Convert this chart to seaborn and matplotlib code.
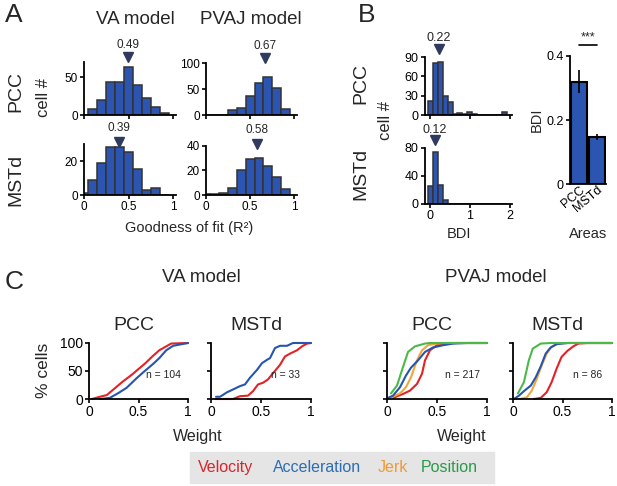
import numpy as np
import pandas as pd
import matplotlib
matplotlib.use('Agg')
import matplotlib.pyplot as plt
import seaborn as sns

W, H = 617, 486

# ---- A: goodness of fit histograms (bin centres, width 0.1)
fit_bins = [0.0, 0.1, 0.2, 0.3, 0.4, 0.5, 0.6, 0.7, 0.8, 0.9]
va_pcc_counts = [0, 8, 20, 43, 44, 63, 40, 22, 10, 2]
pvaj_pcc_counts = [0, 0, 0, 9, 13, 37, 62, 74, 52, 11]
va_mstd_counts = [1, 9, 19, 28, 28, 25, 15, 3, 4, 0]
pvaj_mstd_counts = [1, 1, 2, 6, 20, 29, 30, 24, 15, 5]
fit_medians = [0.49, 0.67, 0.39, 0.58]

# ---- B: BDI histograms (bin centres, width 0.125) and mean BDI
bdi_bins = [0, 0.125, 0.25, 0.375, 0.5, 0.625, 0.75, 0.875, 1.0, 1.125,
            1.25, 1.375, 1.5, 1.625, 1.75, 1.875]
pcc_bdi_counts = [22, 80, 82, 29, 20, 2, 3, 2, 5, 1, 0, 0, 0, 0, 0, 5]
mstd_bdi_counts = [26, 74, 27, 5, 0, 0, 0, 0, 0, 0, 0, 0, 0, 0, 0, 0]
bdi_medians = [0.22, 0.12]
areas = ['PCC', 'MSTd']
bdi_means = [0.32, 0.147]
bdi_sem = [0.036, 0.009]

# ---- C: cumulative weight distributions (% cells)
va_pcc_vel_x = [0.03, 0.11, 0.18, 0.26, 0.34, 0.43, 0.49, 0.57, 0.64, 0.71, 0.78, 0.83, 1.0]
va_pcc_vel_y = [0, 4, 7, 19, 31, 43, 52, 64, 76, 87, 94, 99, 100]
va_pcc_acc_x = [0.11, 0.21, 0.30, 0.38, 0.48, 0.55, 0.65, 0.71, 0.78, 0.85, 0.91, 1.0]
va_pcc_acc_y = [0, 2, 11, 20, 37, 48, 63, 73, 87, 95, 97, 100]

va_mstd_vel_x = [0.05, 0.22, 0.29, 0.37, 0.42, 0.47, 0.52, 0.57, 0.62, 0.69, 0.74, 0.79, 0.86, 0.91, 0.96, 1.0]
va_mstd_vel_y = [0, 0, 5, 6, 14, 26, 29, 35, 46, 61, 76, 81, 87, 94, 99, 100]
va_mstd_acc_x = [0.05, 0.09, 0.16, 0.22, 0.29, 0.34, 0.39, 0.46, 0.51, 0.56, 0.59, 0.64, 0.69, 0.76, 0.82, 1.0]
va_mstd_acc_y = [4, 4, 12, 17, 23, 26, 38, 52, 64, 70, 73, 91, 95, 95, 100, 100]

pvaj_pcc_pos_x = [0.04, 0.10, 0.16, 0.21, 0.28, 0.38, 0.43, 1.0]
pvaj_pcc_pos_y = [10, 24, 57, 84, 94, 99, 100, 100]
pvaj_pcc_acc_x = [0.01, 0.06, 0.13, 0.19, 0.24, 0.31, 0.38, 0.46, 0.56, 0.66, 0.80, 1.0]
pvaj_pcc_acc_y = [2, 6, 21, 42, 56, 69, 84, 92, 96, 99, 100, 100]
pvaj_pcc_jerk_x = [0.03, 0.13, 0.19, 0.24, 0.30, 0.35, 0.41, 0.50, 0.60, 1.0]
pvaj_pcc_jerk_y = [2, 10, 21, 39, 69, 87, 96, 99, 100, 100]
pvaj_pcc_vel_x = [0.06, 0.16, 0.23, 0.30, 0.35, 0.38, 0.43, 0.50, 0.60, 0.70, 1.0]
pvaj_pcc_vel_y = [2, 9, 15, 27, 45, 69, 87, 96, 99, 100, 100]

pvaj_mstd_pos_x = [0.05, 0.11, 0.16, 0.20, 0.28, 0.38, 1.0]
pvaj_mstd_pos_y = [10, 30, 69, 90, 99, 100, 100]
pvaj_mstd_acc_x = [0.01, 0.06, 0.11, 0.18, 0.23, 0.28, 0.33, 0.38, 0.44, 0.55, 1.0]
pvaj_mstd_acc_y = [0, 6, 14, 24, 39, 58, 81, 92, 98, 100, 100]
pvaj_mstd_jerk_x = [0.07, 0.14, 0.19, 0.24, 0.29, 0.34, 0.39, 0.46, 0.55, 1.0]
pvaj_mstd_jerk_y = [0, 3, 15, 36, 60, 81, 93, 99, 100, 100]
pvaj_mstd_vel_x = [0.21, 0.28, 0.34, 0.39, 0.44, 0.49, 0.55, 0.61, 0.66, 0.75, 1.0]
pvaj_mstd_vel_y = [0, 2, 12, 30, 54, 75, 86, 94, 99, 100, 100]

n_cells = ['n = 104', 'n = 33', 'n = 217', 'n = 86']
legend_names = ['Velocity', 'Acceleration', 'Jerk', 'Position']

sns.set_theme(style='ticks')
plt.rcParams['font.family'] = ['Liberation Sans', 'DejaVu Sans']
plt.rcParams['axes.linewidth'] = 1.3
plt.rcParams['xtick.major.width'] = 1.2
plt.rcParams['ytick.major.width'] = 1.2
plt.rcParams['xtick.major.size'] = 3
plt.rcParams['ytick.major.size'] = 3
plt.rcParams['xtick.major.pad'] = 1.5
plt.rcParams['ytick.major.pad'] = 1.5
plt.rcParams['xtick.color'] = 'black'
plt.rcParams['ytick.color'] = 'black'
plt.rcParams['axes.edgecolor'] = 'black'

BAR = '#2b55b0'
EDGE = '#333333'
TRI = '#2f3b5e'
RED, BLUE, ORANGE, GREEN = '#e32227', '#2456b0', '#f4a53a', '#4cb848'

fig = plt.figure(figsize=(W / 100, H / 100), dpi=100)


def px_axes(x0, y0, x1, y1):
    return fig.add_axes([x0 / W, 1 - y1 / H, (x1 - x0) / W, (y1 - y0) / H])


def ftext(x, y, s, **kw):
    fig.text(x / W, 1 - y / H, s, **kw)


def hist_panel(ax, centres, counts, width, ylim, yticks, xlim, xticks, xlabels, fs):
    edges = list(np.array(centres) - width / 2) + [centres[-1] + width / 2]
    sns.histplot(x=centres, weights=counts, bins=edges, ax=ax, color=BAR,
                 edgecolor=EDGE, linewidth=1.1, alpha=1)
    ax.set_xlim(*xlim)
    ax.set_ylim(*ylim)
    ax.set_yticks(yticks)
    ax.set_xticks(xticks)
    ax.set_xticklabels(xlabels)
    ax.set_xlabel('')
    ax.set_ylabel('')
    ax.tick_params(labelsize=fs)
    sns.despine(ax=ax)


def median_mark(ax, m, tri_y, lab_y, fs):
    tr = ax.get_xaxis_transform()
    ax.plot([m], [tri_y], marker='v', color=TRI, markersize=7.5, transform=tr, clip_on=False)
    ax.text(m, lab_y, f'{m:.2f}', transform=tr, ha='center', va='center', fontsize=fs)


# ---------------- Panel A
axA = [px_axes(84, 62, 176, 115), px_axes(206, 63, 297, 115),
       px_axes(84, 144, 176, 195), px_axes(206, 146, 297, 195)]
a_counts = [va_pcc_counts, pvaj_pcc_counts, va_mstd_counts, pvaj_mstd_counts]
a_ylims = [(0, 70), (0, 100), (0, 30), (0, 40)]
a_yticks = [[0, 50], [0, 50, 100], [0, 20], [0, 20, 40]]
for i, ax in enumerate(axA):
    labs = ['0', '0.5', '1'] if i >= 2 else ['', '', '']
    hist_panel(ax, fit_bins, a_counts[i], 0.1, a_ylims[i], a_yticks[i],
               (0, 1.03), [0, 0.5, 1], labs, 8.5)
    if i < 2:
        median_mark(ax, fit_medians[i], 1.09, 1.33, 8.5)
    else:
        median_mark(ax, fit_medians[i], 1.04, 1.32, 8.5)

ftext(5, 3, 'A', fontsize=19, va='top', ha='left')
ftext(135, 19, 'VA model', fontsize=13.5, ha='center', va='center')
ftext(251, 19, 'PVAJ model', fontsize=13.5, ha='center', va='center')
ftext(16, 92, 'PCC', fontsize=14, rotation=90, ha='center', va='center')
ftext(16, 180, 'MSTd', fontsize=14, rotation=90, ha='center', va='center')
ftext(44, 97, 'cell #', fontsize=12, rotation=90, ha='center', va='center')
ftext(189, 228, 'Goodness of fit (R²)', fontsize=10.5, ha='center', va='center')

# ---------------- Panel B
axB1 = px_axes(425, 57, 512, 115)
axB2 = px_axes(425, 148, 512, 204)
hist_panel(axB1, bdi_bins, pcc_bdi_counts, 0.125, (0, 90), [0, 30, 60, 90],
           (-0.13, 2.06), [0, 1, 2], ['', '', ''], 9)
hist_panel(axB2, bdi_bins, mstd_bdi_counts, 0.125, (0, 80), [0, 40, 80],
           (-0.13, 2.06), [0, 1, 2], ['0', '1', '2'], 9)
median_mark(axB1, bdi_medians[0], 1.14, 1.33, 9)
median_mark(axB2, bdi_medians[1], 1.14, 1.33, 9)

ftext(358, 3, 'B', fontsize=19, va='top', ha='left')
ftext(361, 84, 'PCC', fontsize=14, rotation=90, ha='center', va='center')
ftext(361, 174, 'MSTd', fontsize=14, rotation=90, ha='center', va='center')
ftext(386, 120, 'cell #', fontsize=12, rotation=90, ha='center', va='center')
ftext(459, 234, 'BDI', fontsize=10.5, ha='center', va='center')

axB3 = px_axes(570, 56, 606, 184)
sns.barplot(x=areas, y=bdi_means, color=BAR, saturation=1, edgecolor='black',
            linewidth=1.5, width=0.85, ax=axB3)
axB3.errorbar(range(len(areas)), bdi_means, yerr=bdi_sem, fmt='none',
              ecolor='black', elinewidth=1.2, capsize=0)
axB3.set_xlim(-0.5, 1.5)
axB3.set_ylim(0, 0.4)
axB3.set_yticks([0, 0.2, 0.4])
axB3.set_yticklabels(['0', '0.2', '0.4'])
axB3.tick_params(labelsize=9)
axB3.tick_params(axis='x', length=0, pad=0)
for lab in axB3.get_xticklabels():
    lab.set_rotation(40)
    lab.set_ha('right')
    lab.set_rotation_mode('anchor')
axB3.set_ylabel('BDI', fontsize=10.5, labelpad=2)
axB3.set_xlabel('')
sns.despine(ax=axB3)
axB3.plot([0, 1], [0.434, 0.434], color='black', lw=1.2, clip_on=False)
axB3.text(0.5, 0.44, '***', ha='center', va='bottom', fontsize=9, clip_on=False)
ftext(588, 234, 'Areas', fontsize=10.5, ha='center', va='center')

# ---------------- Panel C
axC = [px_axes(89, 343, 188, 399), px_axes(211, 343, 311, 399),
       px_axes(387, 343, 487, 399), px_axes(513, 343, 612, 399)]
c_curves = [
    [(va_pcc_vel_x, va_pcc_vel_y, RED), (va_pcc_acc_x, va_pcc_acc_y, BLUE)],
    [(va_mstd_vel_x, va_mstd_vel_y, RED), (va_mstd_acc_x, va_mstd_acc_y, BLUE)],
    [(pvaj_pcc_vel_x, pvaj_pcc_vel_y, RED), (pvaj_pcc_jerk_x, pvaj_pcc_jerk_y, ORANGE),
     (pvaj_pcc_acc_x, pvaj_pcc_acc_y, BLUE), (pvaj_pcc_pos_x, pvaj_pcc_pos_y, GREEN)],
    [(pvaj_mstd_vel_x, pvaj_mstd_vel_y, RED), (pvaj_mstd_jerk_x, pvaj_mstd_jerk_y, ORANGE),
     (pvaj_mstd_acc_x, pvaj_mstd_acc_y, BLUE), (pvaj_mstd_pos_x, pvaj_mstd_pos_y, GREEN)],
]
c_titles = ['PCC', 'MSTd', 'PCC', 'MSTd']
for i, ax in enumerate(axC):
    for xs, ys, col in c_curves[i]:
        sns.lineplot(x=xs, y=ys, color=col, lw=1.5, ax=ax, clip_on=False)
    ax.set_xlim(0, 1)
    ax.set_ylim(0, 100)
    ax.set_xticks([0, 0.5, 1])
    ax.set_xticklabels(['0', '0.5', '1'])
    ax.set_yticks([0, 50, 100])
    if i != 0:
        ax.set_yticklabels([])
    ax.tick_params(labelsize=10)
    ax.set_title(c_titles[i], fontsize=14, pad=9, x=0.45)
    ax.text(0.75, 0.42, n_cells[i], transform=ax.transAxes, fontsize=7.5,
            ha='center', va='center')
    sns.despine(ax=ax)

ftext(5, 270, 'C', fontsize=19, va='top', ha='left')
ftext(201, 278, 'VA model', fontsize=13.5, ha='center', va='center')
ftext(496, 278, 'PVAJ model', fontsize=13.5, ha='center', va='center')
ftext(43, 370, '% cells', fontsize=12.5, rotation=90, ha='center', va='center')
ftext(198, 437, 'Weight', fontsize=11.5, ha='center', va='center')
ftext(462, 437, 'Weight', fontsize=11.5, ha='center', va='center')

# legend strip
fig.patches.append(matplotlib.patches.Rectangle((190 / W, 1 - 483 / H), 304 / W, 31 / H,
                                                transform=fig.transFigure,
                                                color='#e5e5e5', zorder=0))
leg_x = [198, 273, 378, 421]
leg_cols = ['#d7262b', '#2c6db4', '#f09a35', '#2a9a48']
for name, x, col in zip(legend_names, leg_x, leg_cols):
    ftext(x, 467, name, fontsize=11.5, color=col, ha='left', va='center')

fig.savefig('out.png', dpi=100)
